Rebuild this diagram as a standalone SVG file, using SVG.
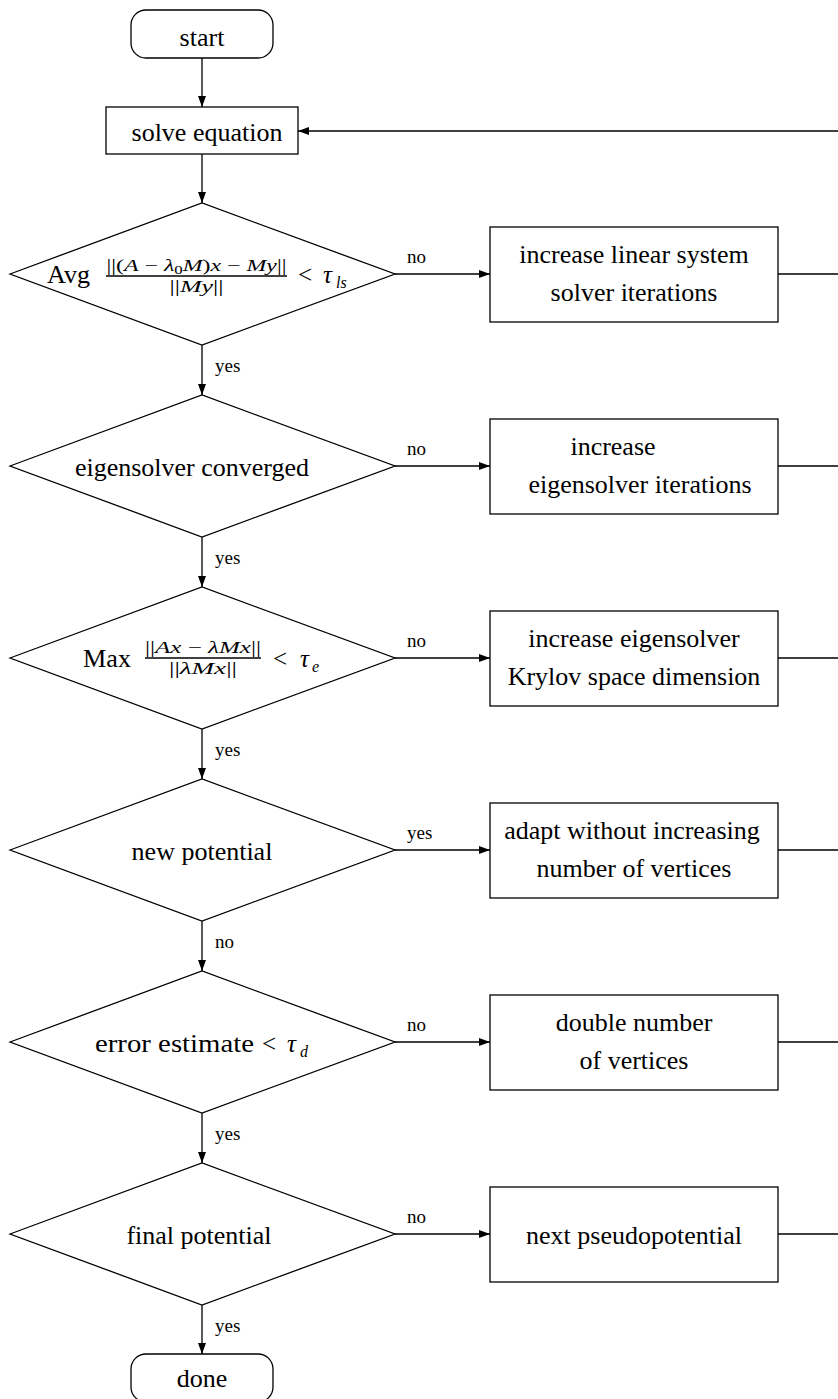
<svg xmlns="http://www.w3.org/2000/svg" width="838" height="1399" viewBox="0 0 838 1399">
<defs>
<marker id="ah" markerUnits="userSpaceOnUse" markerWidth="12" markerHeight="8" refX="11" refY="4" orient="auto">
<path d="M0,0 L11,4 L0,8 Z" fill="#000"/>
</marker>
<style>
.s{fill:#fff;stroke:#000;stroke-width:1.3}
.c{fill:none;stroke:#000;stroke-width:1.3}
.a{fill:none;stroke:#000;stroke-width:1.3;marker-end:url(#ah)}
text{font-family:"Liberation Serif","Times New Roman",serif;fill:#000}
.t{font-size:26px;text-anchor:middle}
.l{font-size:19px}
.m{font-size:25px}
.f{font-size:17px;text-anchor:middle}
.i{font-style:italic}
</style>
</defs>
<rect width="838" height="1399" fill="#fff"/>
<g id="connectors">
<path class="a" d="M202,58 V107"/>
<path class="a" d="M202,154 V203"/>
<path class="a" d="M838,131 H298"/>
<path class="a" d="M202,345 V395"/>
<path class="a" d="M202,537 V587"/>
<path class="a" d="M202,729 V779"/>
<path class="a" d="M202,921 V971"/>
<path class="a" d="M202,1113 V1163"/>
<path class="a" d="M202,1305 V1354"/>
<path class="a" d="M395,274 H490"/>
<path class="a" d="M395,466 H490"/>
<path class="a" d="M395,658 H490"/>
<path class="a" d="M395,850 H490"/>
<path class="a" d="M395,1042 H490"/>
<path class="a" d="M395,1234 H490"/>
<path class="c" d="M778,274 H838 M778,466 H838 M778,658 H838 M778,850 H838 M778,1042 H838 M778,1234 H838"/>
<text class="l" x="407" y="263">no</text>
<text class="l" x="407" y="455">no</text>
<text class="l" x="407" y="647">no</text>
<text class="l" x="407" y="839">yes</text>
<text class="l" x="407" y="1031">no</text>
<text class="l" x="407" y="1223">no</text>
<text class="l" x="215" y="372">yes</text>
<text class="l" x="215" y="564">yes</text>
<text class="l" x="215" y="756">yes</text>
<text class="l" x="215" y="948">no</text>
<text class="l" x="215" y="1140">yes</text>
<text class="l" x="215" y="1332">yes</text>
</g>
<g id="start">
<rect class="s" x="131" y="10" width="142" height="48" rx="15"/>
<text class="t" x="202" y="46">start</text>
</g>
<g id="solve">
<rect class="s" x="106" y="107" width="192" height="47"/>
<text class="t" x="207" y="141">solve equation</text>
</g>
<g id="d1">
<polygon class="s" points="10,274 202,203 395,274 202,345"/>
<text class="m" x="47" y="283" textLength="43" lengthAdjust="spacingAndGlyphs">Avg</text>
<text class="f" x="196.5" y="271" textLength="180" lengthAdjust="spacingAndGlyphs">||(<tspan class="i">A</tspan> − <tspan class="i">λ</tspan><tspan font-size="12" dy="3">0</tspan><tspan class="i" dy="-3">M</tspan>)<tspan class="i">x</tspan> − <tspan class="i">My</tspan>||</text>
<line class="c" x1="106" y1="276" x2="287" y2="276" stroke-width="1.6"/>
<text class="f" x="196.5" y="292" textLength="54" lengthAdjust="spacingAndGlyphs">||<tspan class="i">My</tspan>||</text>
<text class="m" x="298" y="283">&lt;</text>
<text class="m i" x="323" y="283">τ</text>
<text class="i" font-size="16" x="336" y="288">ls</text>
</g>
<g id="b1">
<rect class="s" x="490" y="227" width="288" height="95"/>
<text class="t" x="634" y="263">increase linear system</text>
<text class="t" x="634" y="301">solver iterations</text>
</g>
<g id="d2">
<polygon class="s" points="10,466 202,395 395,466 202,537"/>
<text class="t" x="192" y="476">eigensolver converged</text>
</g>
<g id="b2">
<rect class="s" x="490" y="419" width="288" height="95"/>
<text class="t" x="613" y="455">increase</text>
<text class="t" x="640" y="493">eigensolver iterations</text>
</g>
<g id="d3">
<polygon class="s" points="10,658 202,587 395,658 202,729"/>
<text class="m" x="83" y="667" textLength="48" lengthAdjust="spacingAndGlyphs">Max</text>
<text class="f" x="203" y="653" textLength="116" lengthAdjust="spacingAndGlyphs">||<tspan class="i">Ax</tspan> − <tspan class="i">λMx</tspan>||</text>
<line class="c" x1="145" y1="658" x2="261" y2="658" stroke-width="1.6"/>
<text class="f" x="203" y="674" textLength="68" lengthAdjust="spacingAndGlyphs">||<tspan class="i">λMx</tspan>||</text>
<text class="m" x="273" y="667">&lt;</text>
<text class="m i" x="300" y="667">τ</text>
<text class="i" font-size="16" x="312" y="672">e</text>
</g>
<g id="b3">
<rect class="s" x="490" y="611" width="288" height="95"/>
<text class="t" x="634" y="647">increase eigensolver</text>
<text class="t" x="634" y="685">Krylov space dimension</text>
</g>
<g id="d4">
<polygon class="s" points="10,850 202,779 395,850 202,921"/>
<text class="t" x="202" y="860">new potential</text>
</g>
<g id="b4">
<rect class="s" x="490" y="803" width="288" height="95"/>
<text class="t" x="632" y="839">adapt without increasing</text>
<text class="t" x="634" y="877">number of vertices</text>
</g>
<g id="d5">
<polygon class="s" points="10,1042 202,971 395,1042 202,1113"/>
<text class="m" x="95" y="1052" textLength="159" lengthAdjust="spacingAndGlyphs">error estimate</text>
<text class="m" x="262" y="1052">&lt;</text>
<text class="m i" x="287" y="1052">τ</text>
<text class="i" font-size="16" x="300" y="1057">d</text>
</g>
<g id="b5">
<rect class="s" x="490" y="995" width="288" height="95"/>
<text class="t" x="634" y="1031">double number</text>
<text class="t" x="634" y="1069">of vertices</text>
</g>
<g id="d6">
<polygon class="s" points="10,1234 202,1163 395,1234 202,1305"/>
<text class="t" x="199" y="1244">final potential</text>
</g>
<g id="b6">
<rect class="s" x="490" y="1187" width="288" height="95"/>
<text class="t" x="634" y="1244">next pseudopotential</text>
</g>
<g id="done">
<rect class="s" x="131" y="1354" width="142" height="48" rx="15"/>
<text class="t" x="202" y="1387">done</text>
</g>
</svg>
